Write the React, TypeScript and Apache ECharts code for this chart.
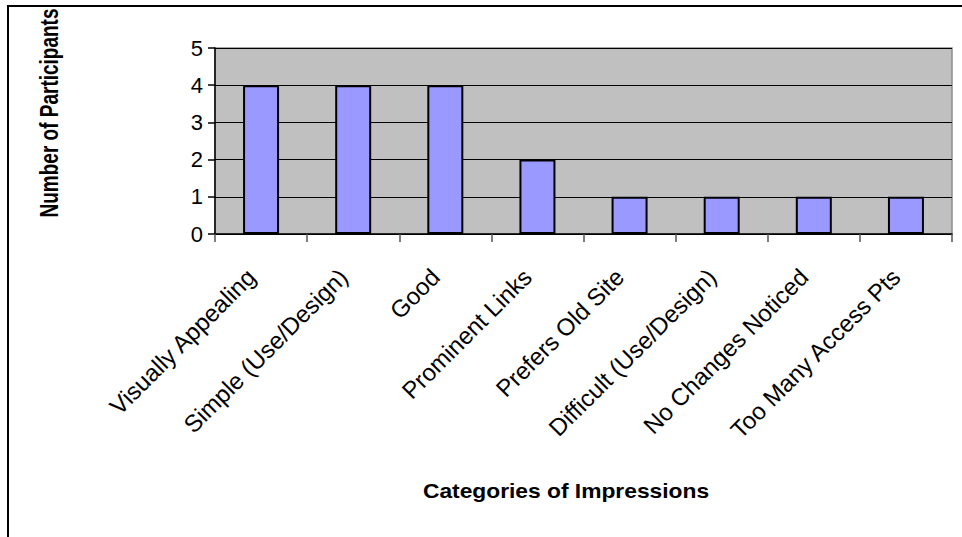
import React, { useEffect, useRef } from "react";
import * as echarts from "echarts";

const categories = [
  "Visually Appealing",
  "Simple (Use/Design)",
  "Good",
  "Prominent Links",
  "Prefers Old Site",
  "Difficult (Use/Design)",
  "No Changes Noticed",
  "Too Many Access Pts",
];
const participants = [4, 4, 4, 2, 1, 1, 1, 1];
const yTitle = "Number of Participants";
const xTitle = "Categories of Impressions";

export default function App() {
  const ref = useRef<HTMLDivElement>(null);
  useEffect(() => {
    if (!ref.current) return;
    const chart = echarts.init(ref.current, null, { renderer: "svg" });
    const font = "'Liberation Sans', Arial, sans-serif";
    chart.setOption({
      animation: false,
      backgroundColor: "#ffffff",
      grid: {
        left: 215,
        right: 10,
        top: 48,
        bottom: 303,
        show: true,
        backgroundColor: "#C0C0C0",
        borderColor: "#8c8c8c",
        borderWidth: 1.5,
      },
      xAxis: {
        type: "category",
        data: categories,
        axisLine: { show: true, lineStyle: { color: "#000", width: 1.5 } },
        axisTick: {
          show: true,
          alignWithLabel: false,
          length: 8,
          lineStyle: { color: "#555", width: 1.5 },
        },
        axisLabel: {
          rotate: 45,
          interval: 0,
          margin: 29,
          padding: [0, 14, 0, 0],
          fontSize: 24,
          fontFamily: font,
          color: "#000",
        },
      },
      yAxis: {
        type: "value",
        min: 0,
        max: 5,
        interval: 1,
        axisLine: { show: true, lineStyle: { color: "#000", width: 1.5 } },
        axisTick: { show: true, length: 7, lineStyle: { color: "#000", width: 1.5 } },
        axisLabel: { fontSize: 22, fontFamily: font, color: "#000", margin: 12 },
        splitLine: { show: true, lineStyle: { color: "#000", width: 1 } },
      },
      series: [
        {
          type: "bar",
          data: participants,
          barWidth: 36,
          itemStyle: { color: "#9999FF", borderColor: "#000", borderWidth: 2 },
        },
      ],
      graphic: [
        {
          type: "rect",
          silent: true,
          z: -10,
          shape: { x: 8, y: 6, width: 1200, height: 1000 },
          style: { fill: "none", stroke: "#000", lineWidth: 2 },
        },
        {
          type: "text",
          x: 48.5,
          y: 113,
          rotation: Math.PI / 2,
          scaleY: 1.4,
          style: {
            text: yTitle,
            font: `bold 19px ${font}`,
            fill: "#000",
            align: "center",
            verticalAlign: "middle",
          },
        },
        {
          type: "text",
          x: 566,
          y: 491,
          scaleX: 1.2,
          scaleY: 1.05,
          style: {
            text: xTitle,
            font: `bold 19px ${font}`,
            fill: "#000",
            align: "center",
            verticalAlign: "middle",
          },
        },
      ],
    });
    return () => chart.dispose();
  }, []);
  return (
    <div
      ref={ref}
      style={{ position: "absolute", left: 0, top: 0, width: 962, height: 537 }}
    />
  );
}
